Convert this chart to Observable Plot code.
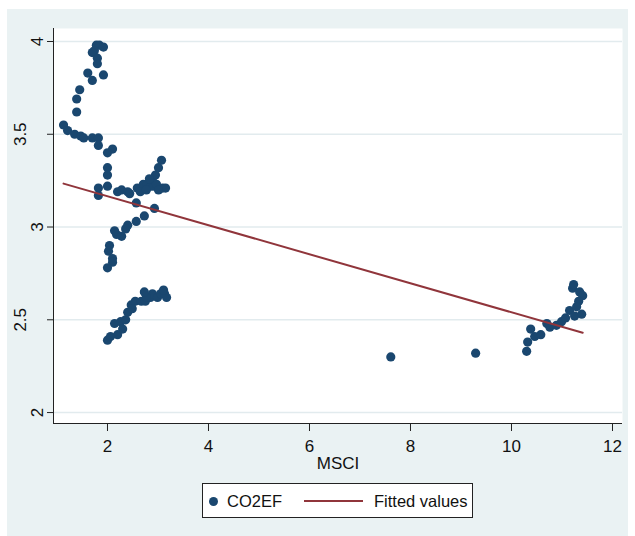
<!DOCTYPE html>
<html><head><meta charset="utf-8">
<script src="https://cdn.jsdelivr.net/npm/d3@7"></script>
<script src="https://cdn.jsdelivr.net/npm/@observablehq/plot@0.6"></script>
<style>
body{margin:0;background:#fff;font-family:"Liberation Sans",Arial,Helvetica,sans-serif;}
#wrap{position:relative;width:635px;height:536px;overflow:hidden;}
#bg{position:absolute;left:7px;top:9px;width:621px;height:527px;background:#eaf2f3;}
#chart{position:absolute;left:0;top:0;}
#legend{position:absolute;left:202px;top:483px;width:269px;height:33px;background:#fff;border:1px solid #222;font-size:16.5px;color:#111;}
#legend .dot{position:absolute;left:5.5px;top:12.5px;width:9px;height:9px;border-radius:50%;background:#1a476f;}
#legend .t{position:absolute;top:0;line-height:34px;white-space:nowrap;}
#legend .ln{position:absolute;left:101px;top:16px;width:59px;height:2px;background:#90353b;}
</style>
</head><body>
<div id="wrap"><div id="bg"></div><div id="chart"></div>
<div id="legend"><div class="dot"></div><span class="t" style="left:24px">CO2EF</span><div class="ln"></div><span class="t" style="left:171px">Fitted values</span></div>
</div>
<script>
const msci = [
 1.78,1.84,1.92,1.74,1.70,1.80,1.80,1.61,1.70,1.92,1.45,1.39,1.39,1.13,1.21,1.35,1.47,1.53,1.70,1.82,1.82,2.10,2.00,
 2.00,2.00,2.00,1.82,1.82,2.20,2.28,2.40,2.44,2.59,2.57,2.71,2.79,2.85,2.89,2.95,3.01,3.07,3.09,3.15,2.91,2.93,2.73,2.57,2.40,2.36,2.28,2.18,2.14,2.04,2.02,2.10,2.10,2.00,2.65,2.77,2.97,3.01,2.83,
 2.00,2.20,2.14,2.26,2.36,2.40,2.47,2.55,2.67,2.75,2.85,2.89,2.77,2.99,3.05,3.13,3.17,3.11,2.30,2.06,2.49,2.73,
 7.61,9.29,
 10.32,10.30,10.38,10.46,10.58,10.70,10.76,10.89,10.99,11.07,11.15,11.25,11.39,11.21,11.23,11.35,11.41,11.33,11.29
];
const co2ef = [
 3.98,3.98,3.97,3.95,3.94,3.91,3.88,3.83,3.79,3.82,3.74,3.69,3.62,3.55,3.52,3.50,3.49,3.48,3.48,3.48,3.44,3.42,3.40,
 3.32,3.28,3.22,3.21,3.17,3.19,3.20,3.19,3.18,3.21,3.13,3.23,3.23,3.22,3.25,3.28,3.32,3.36,3.21,3.21,3.22,3.10,3.06,3.03,3.01,2.99,2.95,2.96,2.98,2.90,2.87,2.83,2.81,2.78,3.19,3.20,3.23,3.20,3.26,
 2.39,2.42,2.48,2.49,2.50,2.54,2.58,2.60,2.60,2.60,2.62,2.64,2.62,2.62,2.64,2.64,2.62,2.66,2.45,2.41,2.56,2.65,
 2.30,2.32,
 2.38,2.33,2.45,2.41,2.42,2.48,2.46,2.47,2.49,2.51,2.55,2.52,2.53,2.67,2.69,2.65,2.63,2.60,2.57
];
const fitX = [1.13, 11.41];
const fitY = [3.234, 2.430];
const xTicks = [2, 4, 6, 8, 10, 12];
const yTicks = [2, 2.5, 3, 3.5, 4];
const yTickLabels = ["2", "2.5", "3", "3.5", "4"];
const xTitle = "MSCI";

const xDomain = [0.931, 12.198];
const yDomain = [1.941, 4.070];
const points = msci.map((x, i) => ({x, y: co2ef[i]}));
const fit = fitX.map((x, i) => ({x, y: fitY[i]}));
const yLab = yTicks.map((v, i) => ({v, t: yTickLabels[i]}));
const fs = 17;

const chart = Plot.plot({
  width: 635, height: 470,
  marginLeft: 53, marginRight: 13, marginTop: 28, marginBottom: 47,
  style: {background: "transparent", fontFamily: "Liberation Sans, Arial, Helvetica, sans-serif", fontSize: "17px", color: "#111", overflow: "visible"},
  x: {domain: xDomain},
  y: {domain: yDomain},
  marks: [
    Plot.frame({fill: "white", stroke: null}),
    Plot.ruleY(yTicks, {stroke: "#e2ebee", strokeWidth: 1.6}),
    Plot.ruleX([xDomain[0]], {stroke: "#222", strokeWidth: 1}),
    Plot.ruleY([yDomain[0]], {stroke: "#222", strokeWidth: 1}),
    Plot.axisX(xTicks, {tickSize: 8, tickPadding: 8, fontSize: fs, label: null, stroke: "#222", fill: "#111"}),
    Plot.axisY(yTicks, {tickSize: 6, tickFormat: () => "", label: null, stroke: "#222"}),
    Plot.text(yLab.filter(d => d.t.length === 1), {frameAnchor: "left", y: "v", text: "t", rotate: -90, textAnchor: "middle", lineAnchor: "bottom", dx: -11, fontSize: fs, fill: "#111"}),
    Plot.text(yLab.filter(d => d.t.length > 1), {frameAnchor: "left", y: "v", text: "t", rotate: -90, textAnchor: "middle", lineAnchor: "bottom", dx: -28, fontSize: fs, fill: "#111"}),
    Plot.text([xTitle], {frameAnchor: "bottom", text: d => d, lineAnchor: "top", dy: 33, fontSize: fs, fill: "#111"}),
    Plot.dot(points, {x: "x", y: "y", r: 4.6, fill: "#1a476f", stroke: null}),
    Plot.line(fit, {x: "x", y: "y", stroke: "#90353b", strokeWidth: 2})
  ]
});
document.getElementById("chart").appendChild(chart);
</script>
</body></html>
